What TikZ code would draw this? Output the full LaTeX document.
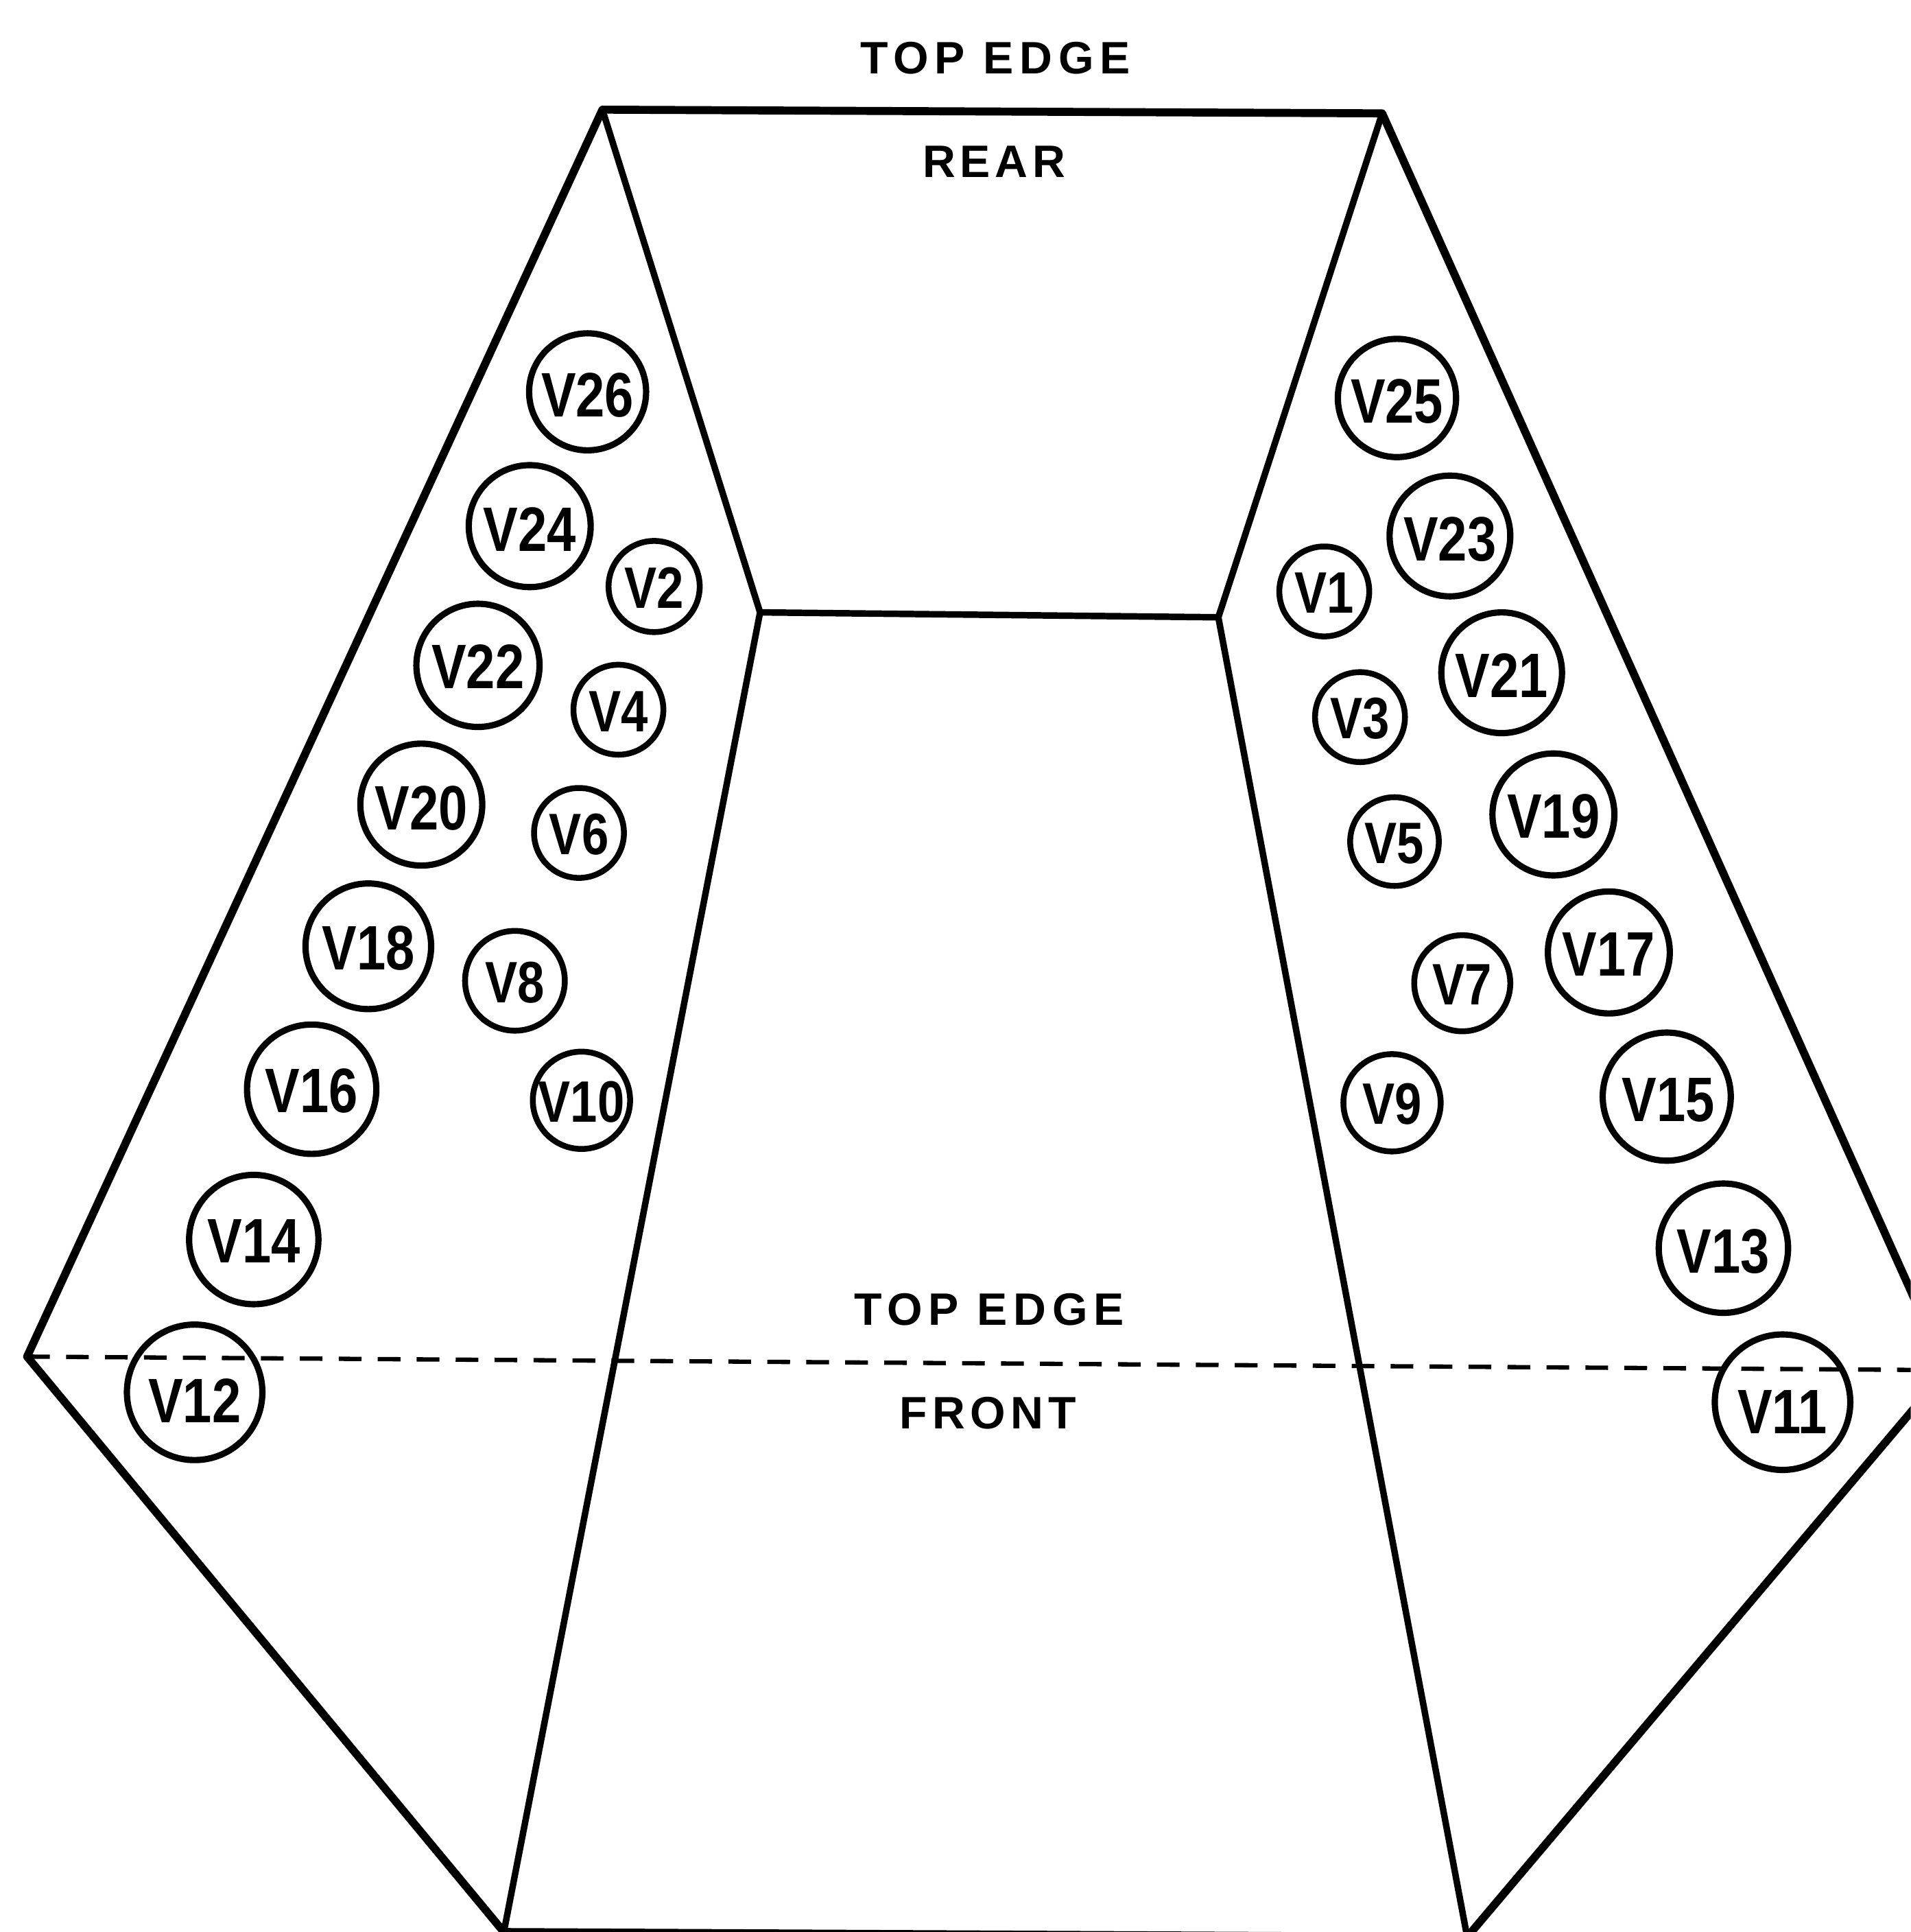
\documentclass[tikz,border=0pt]{standalone}
\usepackage{fontspec}
\setmainfont{Liberation Sans}
\tikzset{x=0.02cm,y=-0.02cm,
 big/.style={draw,circle,line width=2.9pt,inner sep=0pt,font=\bfseries\fontsize{29}{29}\selectfont},
 small/.style={draw,circle,line width=2.7pt,inner sep=0pt,font=\bfseries\fontsize{27}{27}\selectfont},
 outeredge/.style={draw,line width=3.7pt,line join=round,line cap=round},
 inneredge/.style={draw,line width=3pt,line join=round,line cap=round},
 fold/.style={dash pattern=on 10.5pt off 7.5pt,line width=2pt},
 lab/.style={inner sep=0pt,font=\bfseries\fontsize{21}{21}\selectfont,anchor=center}}
\newcommand{\vv}[2][-1.1pt]{\raisebox{\dimexpr-0.36em+#1\relax}[0pt][0pt]{\scalebox{0.83}[1]{#2}}}
\newcommand{\spaced}[2][10]{\addfontfeature{LetterSpace=#1}#2}
\begin{document}
\begin{tikzpicture}
\useasboundingbox (0,0) rectangle (1551,1568);
\clip (0,0) rectangle (1551,1568);
\coordinate (A) at (489,89);
\coordinate (B) at (1122,92);
\coordinate (C) at (617,497);
\coordinate (D) at (989,501);
\coordinate (E) at (22,1101);
\coordinate (F) at (1580,1112);
\coordinate (G) at (409,1568);
\coordinate (H) at (1191,1572);
\draw[outeredge] (E)--(A)--(B)--(F)--(H)--(G)--cycle;
\draw[inneredge] (A)--(C)--(D)--(B);
\draw[inneredge] (C)--(G);
\draw[inneredge] (D)--(H);
\draw[fold] (E)--(F);
\node[lab] (t1) at (808,47) {\spaced[13]{TOP EDGE}};
\node[lab] (t2) at (807,131) {\spaced{REAR}};
\node[lab] (t3) at (803,1063) {\spaced[13]{TOP EDGE}};
\node[lab] (t4) at (802,1147) {\spaced[11]{FRONT}};
\node[big,minimum size=1.9cm] (v26) at (477,318) {\vv{V26}};
\node[big,minimum size=1.98cm] (v24) at (430,427) {\vv{V24}};
\node[big,minimum size=2.0cm] (v22) at (388,540) {\vv[-0.3pt]{V22}};
\node[big,minimum size=1.98cm] (v20) at (342,653) {\vv{V20}};
\node[big,minimum size=2.04cm] (v18) at (299,768) {\vv[-0.3pt]{V18}};
\node[big,minimum size=2.1cm] (v16) at (253,884) {\vv[-0.3pt]{V16}};
\node[big,minimum size=2.1cm] (v14) at (206,1006) {\vv[-0.3pt]{V14}};
\node[big,minimum size=2.2cm] (v12) at (158,1130) {\vv[-3.4pt]{V12}};
\node[small,minimum size=1.48cm] (v2) at (531,476) {\vv[-0.3pt]{V2}};
\node[small,minimum size=1.46cm] (v4) at (502,576) {\vv[-0.3pt]{V4}};
\node[small,minimum size=1.46cm] (v6) at (470,676) {\vv[-0.3pt]{V6}};
\node[small,minimum size=1.62cm] (v8) at (418,796) {\vv[-0.3pt]{V8}};
\node[small,minimum size=1.58cm] (v10) at (472,893) {\vv[-0.3pt]{V10}};
\node[big,minimum size=1.92cm] (v25) at (1134,323) {\vv{V25}};
\node[big,minimum size=1.96cm] (v23) at (1177,435) {\vv{V23}};
\node[big,minimum size=1.96cm] (v21) at (1219,546) {\vv{V21}};
\node[big,minimum size=1.98cm] (v19) at (1261,661) {\vv[-0.3pt]{V19}};
\node[big,minimum size=1.98cm] (v17) at (1306,773) {\vv[-0.3pt]{V17}};
\node[big,minimum size=2.08cm] (v15) at (1353,890) {\vv{\hspace{2pt}V15}};
\node[big,minimum size=2.1cm] (v13) at (1399,1013) {\vv{V13}};
\node[big,minimum size=2.2cm] (v11) at (1447,1138) {\vv[-4pt]{V11}};
\node[small,minimum size=1.46cm] (v1) at (1075,480) {\vv[-0.3pt]{V1}};
\node[small,minimum size=1.46cm] (v3) at (1104,582) {\vv[-0.3pt]{V3}};
\node[small,minimum size=1.44cm] (v5) at (1132,683) {\vv[-0.3pt]{V5}};
\node[small,minimum size=1.56cm] (v7) at (1187,798) {\vv[-0.3pt]{V7}};
\node[small,minimum size=1.58cm] (v9) at (1130,895) {\vv[-0.3pt]{V9}};
\end{tikzpicture}
\end{document}
